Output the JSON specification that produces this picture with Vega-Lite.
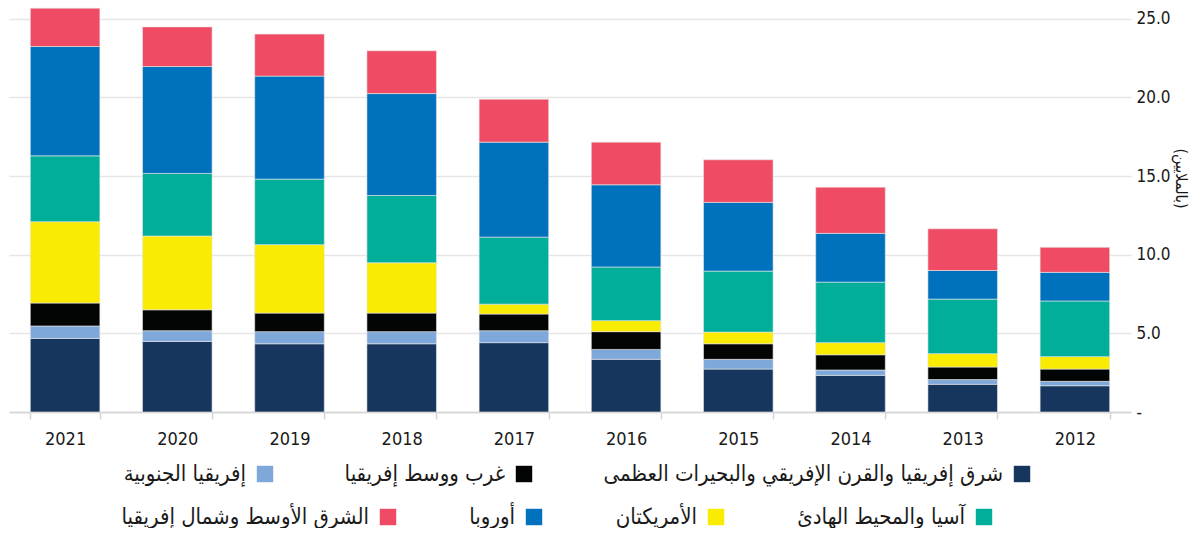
{
  "$schema": "https://vega.github.io/schema/vega-lite/v6.json",
  "width": 1122,
  "height": 412,
  "padding": {"left": 9, "top": 0, "right": 8, "bottom": 0},
  "background": "white",
  "data": {
    "values": [
      {"year": "2021", "region": "شرق إفريقيا والقرن الإفريقي والبحيرات العظمى", "value": 4.68},
      {"year": "2021", "region": "إفريقيا الجنوبية", "value": 0.79},
      {"year": "2021", "region": "غرب ووسط إفريقيا", "value": 1.46},
      {"year": "2021", "region": "الأمريكتان", "value": 5.17},
      {"year": "2021", "region": "آسيا والمحيط الهادئ", "value": 4.19},
      {"year": "2021", "region": "أوروبا", "value": 6.95},
      {"year": "2021", "region": "الشرق الأوسط وشمال إفريقيا", "value": 2.44},
      {"year": "2020", "region": "شرق إفريقيا والقرن الإفريقي والبحيرات العظمى", "value": 4.49},
      {"year": "2020", "region": "إفريقيا الجنوبية", "value": 0.68},
      {"year": "2020", "region": "غرب ووسط إفريقيا", "value": 1.33},
      {"year": "2020", "region": "الأمريكتان", "value": 4.69},
      {"year": "2020", "region": "آسيا والمحيط الهادئ", "value": 3.98},
      {"year": "2020", "region": "أوروبا", "value": 6.80},
      {"year": "2020", "region": "الشرق الأوسط وشمال إفريقيا", "value": 2.52},
      {"year": "2019", "region": "شرق إفريقيا والقرن الإفريقي والبحيرات العظمى", "value": 4.34},
      {"year": "2019", "region": "إفريقيا الجنوبية", "value": 0.77},
      {"year": "2019", "region": "غرب ووسط إفريقيا", "value": 1.18},
      {"year": "2019", "region": "الأمريكتان", "value": 4.35},
      {"year": "2019", "region": "آسيا والمحيط الهادئ", "value": 4.17},
      {"year": "2019", "region": "أوروبا", "value": 6.55},
      {"year": "2019", "region": "الشرق الأوسط وشمال إفريقيا", "value": 2.67},
      {"year": "2018", "region": "شرق إفريقيا والقرن الإفريقي والبحيرات العظمى", "value": 4.34},
      {"year": "2018", "region": "إفريقيا الجنوبية", "value": 0.77},
      {"year": "2018", "region": "غرب ووسط إفريقيا", "value": 1.18},
      {"year": "2018", "region": "الأمريكتان", "value": 3.20},
      {"year": "2018", "region": "آسيا والمحيط الهادئ", "value": 4.28},
      {"year": "2018", "region": "أوروبا", "value": 6.48},
      {"year": "2018", "region": "الشرق الأوسط وشمال إفريقيا", "value": 2.72},
      {"year": "2017", "region": "شرق إفريقيا والقرن الإفريقي والبحيرات العظمى", "value": 4.41},
      {"year": "2017", "region": "إفريقيا الجنوبية", "value": 0.76},
      {"year": "2017", "region": "غرب ووسط إفريقيا", "value": 1.06},
      {"year": "2017", "region": "الأمريكتان", "value": 0.63},
      {"year": "2017", "region": "آسيا والمحيط الهادئ", "value": 4.26},
      {"year": "2017", "region": "أوروبا", "value": 6.04},
      {"year": "2017", "region": "الشرق الأوسط وشمال إفريقيا", "value": 2.73},
      {"year": "2016", "region": "شرق إفريقيا والقرن الإفريقي والبحيرات العظمى", "value": 3.35},
      {"year": "2016", "region": "إفريقيا الجنوبية", "value": 0.63},
      {"year": "2016", "region": "غرب ووسط إفريقيا", "value": 1.13},
      {"year": "2016", "region": "الأمريكتان", "value": 0.70},
      {"year": "2016", "region": "آسيا والمحيط الهادئ", "value": 3.41},
      {"year": "2016", "region": "أوروبا", "value": 5.23},
      {"year": "2016", "region": "الشرق الأوسط وشمال إفريقيا", "value": 2.71},
      {"year": "2015", "region": "شرق إفريقيا والقرن الإفريقي والبحيرات العظمى", "value": 2.73},
      {"year": "2015", "region": "إفريقيا الجنوبية", "value": 0.62},
      {"year": "2015", "region": "غرب ووسط إفريقيا", "value": 0.99},
      {"year": "2015", "region": "الأمريكتان", "value": 0.74},
      {"year": "2015", "region": "آسيا والمحيط الهادئ", "value": 3.88},
      {"year": "2015", "region": "أوروبا", "value": 4.37},
      {"year": "2015", "region": "الشرق الأوسط وشمال إفريقيا", "value": 2.71},
      {"year": "2014", "region": "شرق إفريقيا والقرن الإفريقي والبحيرات العظمى", "value": 2.33},
      {"year": "2014", "region": "إفريقيا الجنوبية", "value": 0.34},
      {"year": "2014", "region": "غرب ووسط إفريقيا", "value": 0.97},
      {"year": "2014", "region": "الأمريكتان", "value": 0.77},
      {"year": "2014", "region": "آسيا والمحيط الهادئ", "value": 3.85},
      {"year": "2014", "region": "أوروبا", "value": 3.10},
      {"year": "2014", "region": "الشرق الأوسط وشمال إفريقيا", "value": 2.94},
      {"year": "2013", "region": "شرق إفريقيا والقرن الإفريقي والبحيرات العظمى", "value": 1.76},
      {"year": "2013", "region": "إفريقيا الجنوبية", "value": 0.30},
      {"year": "2013", "region": "غرب ووسط إفريقيا", "value": 0.80},
      {"year": "2013", "region": "الأمريكتان", "value": 0.85},
      {"year": "2013", "region": "آسيا والمحيط الهادئ", "value": 3.47},
      {"year": "2013", "region": "أوروبا", "value": 1.82},
      {"year": "2013", "region": "الشرق الأوسط وشمال إفريقيا", "value": 2.65},
      {"year": "2012", "region": "شرق إفريقيا والقرن الإفريقي والبحيرات العظمى", "value": 1.67},
      {"year": "2012", "region": "إفريقيا الجنوبية", "value": 0.28},
      {"year": "2012", "region": "غرب ووسط إفريقيا", "value": 0.78},
      {"year": "2012", "region": "الأمريكتان", "value": 0.79},
      {"year": "2012", "region": "آسيا والمحيط الهادئ", "value": 3.54},
      {"year": "2012", "region": "أوروبا", "value": 1.82},
      {"year": "2012", "region": "الشرق الأوسط وشمال إفريقيا", "value": 1.59}
    ]
  },
  "transform": [
    {"calculate": "indexof(['شرق إفريقيا والقرن الإفريقي والبحيرات العظمى','إفريقيا الجنوبية','غرب ووسط إفريقيا','الأمريكتان','آسيا والمحيط الهادئ','أوروبا','الشرق الأوسط وشمال إفريقيا'], datum.region)", "as": "ord"},
    {"stack": "value", "groupby": ["year"], "sort": [{"field": "ord", "order": "ascending"}], "as": ["v0", "v1"]}
  ],
  "encoding": {
    "x": {
      "field": "year", "type": "ordinal", "sort": "descending",
      "scale": {"paddingInner": 0.38, "paddingOuter": 0.19},
      "axis": {
        "title": null, "labelAngle": 0, "domain": true, "domainColor": "#d4d4d4", "domainWidth": 1.5,
        "ticks": true, "tickBand": "extent", "tickSize": 7, "tickColor": "#d4d4d4", "tickWidth": 1.5,
        "labelPadding": 11, "labelFont": "DejaVu Sans Condensed, DejaVu Sans, sans-serif",
        "labelFontSize": 18, "labelColor": "#1a1a1a"
      }
    },
    "y": {
      "field": "v0", "type": "quantitative",
      "scale": {"domain": [0, 26.2], "nice": false, "zero": true},
      "axis": {
        "orient": "right", "values": [0, 5, 10, 15, 20, 25],
        "labelExpr": "datum.value == 0 ? '-' : format(datum.value, '.1f')",
        "grid": true, "gridColor": "#e6e6e6", "gridWidth": 1.5,
        "domain": false, "ticks": false, "labelPadding": 5,
        "labelFont": "DejaVu Sans Condensed, DejaVu Sans, sans-serif",
        "labelFontSize": 17, "labelColor": "#1a1a1a",
        "title": "(بالملايين)", "titleFont": "DejaVu Sans Condensed, DejaVu Sans, sans-serif",
        "titleFontSize": 16, "titleFontWeight": "normal", "titleColor": "#1a1a1a",
        "titlePadding": 2, "titleY": 178
      }
    },
    "y2": {"field": "v1"}
  },
  "layer": [
    {
      "transform": [{"filter": {"field": "region", "oneOf": ["شرق إفريقيا والقرن الإفريقي والبحيرات العظمى", "إفريقيا الجنوبية", "غرب ووسط إفريقيا"]}}],
      "mark": {"type": "bar", "stroke": "#e8e8e8", "strokeWidth": 0.6},
      "encoding": {
        "fill": {
          "field": "region", "type": "nominal",
          "scale": {
            "domain": ["إفريقيا الجنوبية", "غرب ووسط إفريقيا", "شرق إفريقيا والقرن الإفريقي والبحيرات العظمى"],
            "range": ["#7fa8da", "#030404", "#16365e"]
          },
          "legend": {"orient": "none", "legendX": 245, "legendY": 463, "columnPadding": 70}
        }
      }
    },
    {
      "transform": [{"filter": {"field": "region", "oneOf": ["الأمريكتان", "آسيا والمحيط الهادئ", "أوروبا", "الشرق الأوسط وشمال إفريقيا"]}}],
      "mark": {"type": "bar", "stroke": "#e8e8e8", "strokeWidth": 0.6},
      "encoding": {
        "fill": {
          "field": "region", "type": "nominal",
          "scale": {
            "domain": ["الشرق الأوسط وشمال إفريقيا", "أوروبا", "الأمريكتان", "آسيا والمحيط الهادئ"],
            "range": ["#f04b64", "#0071bc", "#f9eb02", "#00ae9a"]
          },
          "legend": {"orient": "none", "legendX": 368, "legendY": 506, "columnPadding": 72}
        }
      }
    }
  ],
  "resolve": {"scale": {"fill": "independent"}, "legend": {"fill": "independent"}},
  "config": {
    "view": {"stroke": null},
    "legend": {
      "title": null, "direction": "horizontal", "columns": 4,
      "symbolType": "square", "symbolSize": 270, "symbolStrokeWidth": 0,
      "labelAlign": "right", "labelOffset": -30,
      "labelFont": "DejaVu Sans Condensed, DejaVu Sans, sans-serif", "labelFontSize": 22,
      "labelColor": "#1a1a1a", "labelLimit": 0
    }
  }
}
